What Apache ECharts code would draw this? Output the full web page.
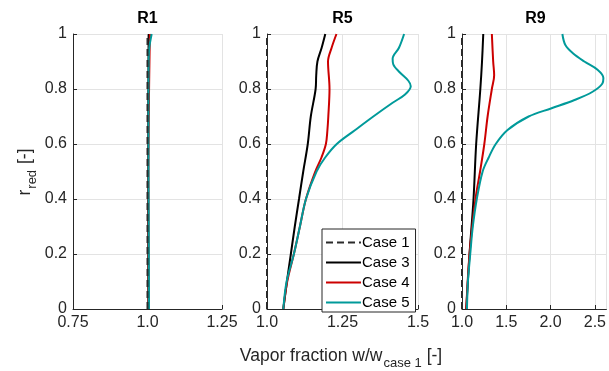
<!DOCTYPE html>
<html><head><meta charset="utf-8">
<script src="https://cdn.jsdelivr.net/npm/echarts@6/dist/echarts.min.js"></script>
<style>html,body{margin:0;padding:0;background:#fff}#c{width:609px;height:371px}</style>
</head><body><div id="c"></div>
<script>
// ---- data ----
const panelTitles = ['R1', 'R5', 'R9'];
const seriesNames = ['Case 1', 'Case 3', 'Case 4', 'Case 5'];
const yTicks = [0, 0.2, 0.4, 0.6, 0.8, 1];

// R1
const r1_case1_r = [0, 1];
const r1_case1_w = [1.0, 1.0];
const r1_case3_r = [0, 0.5, 1];
const r1_case3_w = [1.003, 1.002, 1.004];
const r1_case4_r = [0, 0.5, 1];
const r1_case4_w = [1.004, 1.003, 1.008];
const r1_case5_r = [0, 0.3, 0.6, 0.9, 0.95, 1.0];
const r1_case5_w = [1.005, 1.004, 1.003, 1.004, 1.006, 1.014];

// R5
const r5_case1_r = [0, 1];
const r5_case1_w = [1.0, 1.0];
const r5_case3_r = [0, 0.1, 0.2, 0.3, 0.4, 0.5, 0.6, 0.7, 0.8, 0.85, 0.9, 0.95, 1.0];
const r5_case3_w = [1.054, 1.066, 1.079, 1.092, 1.106, 1.12, 1.135, 1.145, 1.161, 1.163, 1.167, 1.181, 1.193];
const r5_case4_r = [0, 0.1, 0.2, 0.3, 0.4, 0.5, 0.55, 0.6, 0.65, 0.7, 0.8, 0.9, 0.95, 1.0];
const r5_case4_w = [1.054, 1.067, 1.089, 1.109, 1.129, 1.16, 1.18, 1.195, 1.2, 1.203, 1.207, 1.202, 1.214, 1.23];
const r5_case5_r = [0, 0.1, 0.2, 0.3, 0.4, 0.5, 0.55, 0.6, 0.65, 0.7, 0.75, 0.78, 0.81, 0.83, 0.86, 0.89, 0.91, 0.95, 1.0];
const r5_case5_w = [1.054, 1.065, 1.089, 1.109, 1.129, 1.164, 1.192, 1.231, 1.291, 1.352, 1.416, 1.457, 1.476, 1.468, 1.44, 1.418, 1.416, 1.437, 1.454];

// R9
const r9_case1_r = [0, 1];
const r9_case1_w = [1.0, 1.0];
const r9_case3_r = [0, 0.2, 0.4, 0.6, 0.8, 0.9, 1.0];
const r9_case3_w = [1.048, 1.085, 1.13, 1.16, 1.207, 1.226, 1.24];
const r9_case4_r = [0, 0.2, 0.4, 0.5, 0.6, 0.7, 0.8, 0.85, 0.9, 1.0];
const r9_case4_w = [1.048, 1.085, 1.152, 1.204, 1.252, 1.289, 1.337, 1.363, 1.352, 1.337];
const r9_case5_r = [0, 0.1, 0.2, 0.3, 0.4, 0.5, 0.55, 0.6, 0.65, 0.7, 0.73, 0.76, 0.79, 0.82, 0.84, 0.87, 0.9, 0.93, 0.96, 1.0];
const r9_case5_w = [1.056, 1.067, 1.093, 1.122, 1.167, 1.233, 1.3, 1.381, 1.511, 1.752, 2.011, 2.27, 2.474, 2.585, 2.596, 2.53, 2.381, 2.252, 2.167, 2.133];

const xRanges = [[0.75, 1.25, 0.25], [1.0, 1.5, 0.25], [1.0, 2.63, 0.5]];

// ---- chart ----
const FONT = '"Liberation Sans", Arial, Helvetica, sans-serif';
const TXT = '#262626';
const colors = {'Case 1': '#2b2b2b', 'Case 3': '#000000', 'Case 4': '#cc0000', 'Case 5': '#009a9a'};
const pairs = (w, r) => w.map((v, i) => [v, r[i]]);
const panelData = [
  [[r1_case1_w, r1_case1_r], [r1_case3_w, r1_case3_r], [r1_case4_w, r1_case4_r], [r1_case5_w, r1_case5_r]],
  [[r5_case1_w, r5_case1_r], [r5_case3_w, r5_case3_r], [r5_case4_w, r5_case4_r], [r5_case5_w, r5_case5_r]],
  [[r9_case1_w, r9_case1_r], [r9_case3_w, r9_case3_r], [r9_case4_w, r9_case4_r], [r9_case5_w, r9_case5_r]]
];
const gridPos = [
  {left: 73, width: 149},
  {left: 267, width: 151},
  {left: 462, width: 147}
];
const fmtX = (v) => {
  let s = String(+v.toFixed(2));
  if (s.indexOf('.') < 0) s += '.0';
  return s;
};

const grids = [], xAxes = [], yAxes = [], series = [];
gridPos.forEach((g, i) => {
  grids.push({left: g.left, width: g.width, top: 34, height: 275, containLabel: false});
  const [mn, mx, iv] = xRanges[i];
  xAxes.push({
    type: 'value', gridIndex: i, min: mn, max: mx, interval: iv,
    axisLine: {show: true, onZero: false, lineStyle: {color: TXT, width: 1}},
    axisTick: {show: true, inside: true, length: 4, lineStyle: {color: TXT}},
    axisLabel: {color: TXT, fontSize: 16, fontFamily: FONT, margin: 6, showMaxLabel: i < 2,
      formatter: (v) => (Math.abs(v / iv - Math.round(v / iv)) < 1e-6 || i < 2) ? fmtX(v) : ''},
    splitLine: {show: true, lineStyle: {color: '#e3e3e3', width: 1}}
  });
  yAxes.push({
    type: 'value', gridIndex: i, min: 0, max: 1, interval: 0.2,
    axisLine: {show: true, onZero: false, lineStyle: {color: TXT, width: 1}},
    axisTick: {show: true, inside: true, length: 4, lineStyle: {color: TXT}},
    axisLabel: {color: TXT, fontSize: 16, fontFamily: FONT, margin: 6,
      formatter: (v) => String(+v.toFixed(1))},
    splitLine: {show: true, lineStyle: {color: '#e3e3e3', width: 1}}
  });
  panelData[i].forEach((d, k) => {
    const name = seriesNames[k];
    series.push({
      name, type: 'line', xAxisIndex: i, yAxisIndex: i,
      data: pairs(d[0], d[1]), symbol: 'none', showSymbol: false, smooth: k === 0 ? false : 0.35,
      lineStyle: {color: colors[name], width: 2, type: k === 0 ? [7, 4] : 'solid'},
      itemStyle: {color: colors[name]},
      z: k === 0 ? 8 : 3 + k,
      animation: false
    });
  });
});

const titleCenters = [147.5, 342.5, 535.5];
const graphics = titleCenters.map((x, i) => ({
  type: 'text', x: x, y: 19,
  style: {text: panelTitles[i], font: 'bold 16px ' + FONT, fill: '#000', align: 'center', verticalAlign: 'middle'}
}));
graphics.push({
  type: 'text', x: 341, y: 356,
  style: {
    text: '{a|Vapor fraction w/w}{b|case 1}{a| [-]}',
    align: 'center', verticalAlign: 'middle',
    rich: {
      a: {fontSize: 17.5, fontFamily: FONT, fill: TXT, lineHeight: 20},
      b: {fontSize: 13, fontFamily: FONT, fill: TXT, lineHeight: 20, padding: [15, 0, 0, 1]}
    }
  }
});
graphics.push({
  type: 'text', x: 25, y: 172, rotation: Math.PI / 2,
  style: {
    text: '{a|r}{b|red}{a| [-]}',
    align: 'center', verticalAlign: 'middle',
    rich: {
      a: {fontSize: 17.5, fontFamily: FONT, fill: TXT, lineHeight: 20},
      b: {fontSize: 13, fontFamily: FONT, fill: TXT, lineHeight: 20, padding: [14, 1, 0, 1]}
    }
  }
});

const chart = echarts.init(document.getElementById('c'), null, {renderer: 'canvas'});
chart.setOption({
  animation: false,
  backgroundColor: '#ffffff',
  grid: grids, xAxis: xAxes, yAxis: yAxes, series: series,
  graphic: graphics,
  legend: {
    data: seriesNames, orient: 'vertical', left: 322, top: 229,
    padding: [6, 6, 2, 3], itemWidth: 35, itemHeight: 14, itemGap: 5,
    borderColor: TXT, borderWidth: 1, backgroundColor: '#ffffff',
    itemStyle: {opacity: 0},
    textStyle: {color: '#000', fontSize: 15, fontFamily: FONT, padding: [0, 0, 0, -4]},
    selectedMode: false
  }
});
</script></body></html>
